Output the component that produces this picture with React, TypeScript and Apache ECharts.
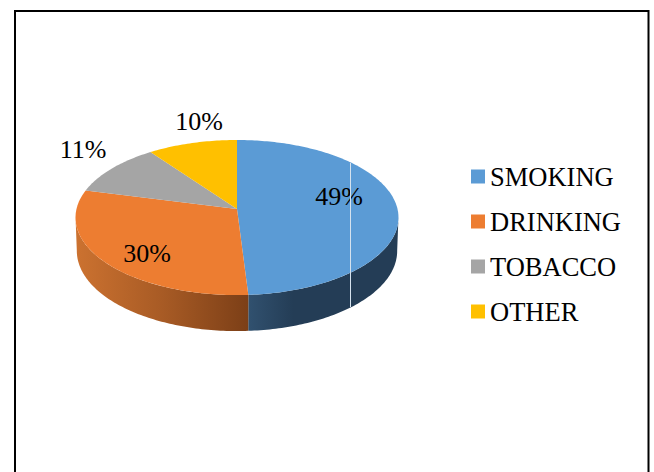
import React, { useEffect, useRef } from "react";
import * as echarts from "echarts";

const categories = ["SMOKING", "DRINKING", "TOBACCO", "OTHER"];
const shares = [49, 30, 11, 10];
const topColors = ["#5b9bd5", "#ed7d31", "#a5a5a5", "#ffc000"];
const labelCentres = [
  [339, 196],
  [147, 253],
  [83, 149],
  [199, 121],
];

const SERIF = '"Liberation Serif", "Times New Roman", serif';
const APEX_X = 237;
const APEX_Y = 209;
const RADIUS_X = 160.5;
const RADIUS_Y = 76.6;
const TILT = -0.11;
const FRONT_FROM = 96;
const FRONT_TO = 264;

// Projects a point on the pie's rim to the page, with the tilt's perspective.
function rim(deg: number, lower = false): number[] {
  const rad = (deg * Math.PI) / 180;
  const u = Math.sin(rad);
  const t = -Math.cos(rad);
  const d = 1 + TILT * t;
  const x = (RADIUS_X * u) / d;
  const y = (RADIUS_Y * t) / d;
  if (!lower) return [APEX_X + x, APEX_Y + y];
  return [APEX_X + x * 0.992, APEX_Y + y + 33 + 3 * t];
}

function arc(from: number, to: number, lower = false): number[][] {
  const pts: number[][] = [];
  const steps = Math.max(2, Math.ceil(Math.abs(to - from)));
  for (let i = 0; i <= steps; i++) pts.push(rim(from + ((to - from) * i) / steps, lower));
  return pts;
}

function sideFill(index: number) {
  if (index === 0) {
    return new echarts.graphic.LinearGradient(0, 0, 1, 0, [
      { offset: 0, color: "#31516f" },
      { offset: 0.3, color: "#243d56" },
      { offset: 1, color: "#243d56" },
    ]);
  }
  return new echarts.graphic.LinearGradient(0, 0, 1, 0, [
    { offset: 0, color: "#cc7230" },
    { offset: 0.5, color: "#a85b25" },
    { offset: 1, color: "#7c3f17" },
  ]);
}

export default function App() {
  const ref = useRef<HTMLDivElement>(null);

  useEffect(() => {
    document.body.style.margin = "0";
    const chart = echarts.init(ref.current!, null, { renderer: "svg" });
    const total = shares.reduce((a, b) => a + b, 0);

    const series = categories.map((name, index) => {
      const before = shares.slice(0, index).reduce((a, b) => a + b, 0);
      return {
        type: "custom",
        name,
        coordinateSystem: "none",
        itemStyle: { color: topColors[index] },
        data: [[shares[index], before]],
        renderItem: (_params: any, api: any) => {
          const value = api.value(0);
          const start = (api.value(1) / total) * 360;
          const end = start + (value / total) * 360;
          const children: any[] = [];
          const sideFrom = Math.max(start, FRONT_FROM);
          const sideTo = Math.min(end, FRONT_TO);
          if (sideTo > sideFrom) {
            children.push({
              type: "polygon",
              shape: { points: [...arc(sideFrom, sideTo), ...arc(sideTo, sideFrom, true)] },
              style: { fill: sideFill(index) },
            });
          }
          children.push({
            type: "polygon",
            shape: { points: [[APEX_X, APEX_Y], ...arc(start, end)] },
            style: { fill: topColors[index] },
          });
          return { type: "group", children };
        },
      };
    });

    // Percentage labels sit above every slice, so they get a series of their own.
    const labelSeries = {
      type: "custom",
      coordinateSystem: "none",
      silent: true,
      z: 5,
      data: shares.map((s, i) => [s, i]),
      renderItem: (_params: any, api: any) => {
        const centre = labelCentres[api.value(1)];
        return {
          type: "text",
          x: centre[0],
          y: centre[1],
          style: {
            text: `${api.value(0)}%`,
            font: `26px ${SERIF}`,
            fill: "#000",
            align: "center",
            verticalAlign: "middle",
          },
        };
      },
    };

    chart.setOption({
      animation: false,
      backgroundColor: "#fff",
      legend: {
        orient: "vertical",
        left: 466,
        top: 158,
        icon: "rect",
        itemWidth: 14,
        itemHeight: 14,
        itemGap: 18,
        selectedMode: false,
        data: categories,
        textStyle: { fontFamily: SERIF, fontSize: 26.5, color: "#000" },
      },
      graphic: [
        {
          type: "rect",
          z: 10,
          silent: true,
          shape: { x: 15, y: 11, width: 633.5, height: 500 },
          style: { fill: "none", stroke: "#000", lineWidth: 2 },
        },
        {
          type: "line",
          z: 10,
          silent: true,
          shape: { x1: 350.5, y1: 163, x2: 350.5, y2: 307 },
          style: { stroke: "#d5e2ee", lineWidth: 1 },
        },
      ],
      series: [...series, labelSeries],
    } as any);

    return () => chart.dispose();
  }, []);

  return <div ref={ref} style={{ width: 654, height: 472 }} />;
}
